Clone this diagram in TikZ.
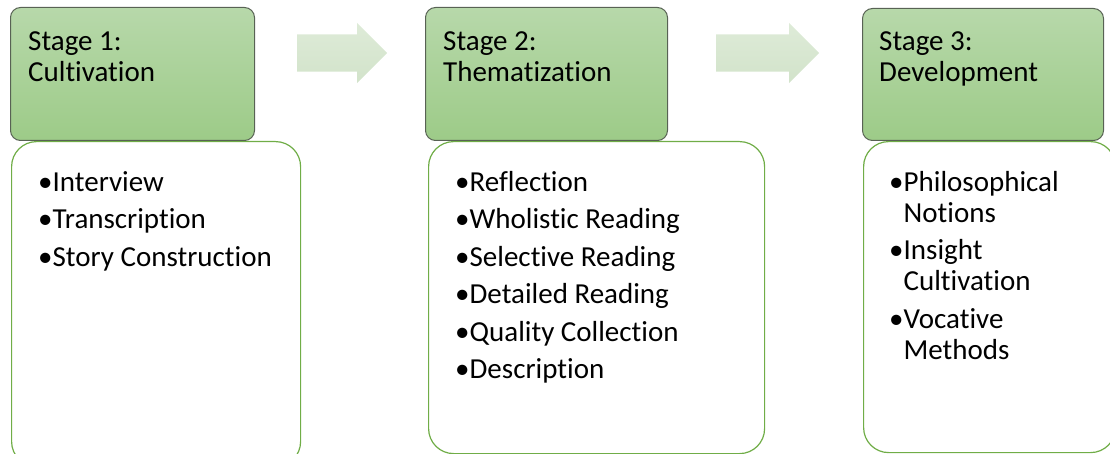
\documentclass[tikz,border=0pt]{standalone}
\usepackage{fontspec}
\setmainfont{Carlito}[Ligatures=NoCommon]
\usetikzlibrary{positioning,shapes.arrows}
\definecolor{hdrtop}{RGB}{183,216,170}
\definecolor{hdrbot}{RGB}{157,203,136}
\definecolor{hdrline}{RGB}{88,98,84}
\definecolor{boxline}{RGB}{112,173,71}
\definecolor{arrtop}{RGB}{222,235,216}
\definecolor{arrbot}{RGB}{210,227,202}

\begin{document}
\begin{tikzpicture}[x=1pt,y=-1pt,
  stagebox/.style={draw=hdrline, line width=1pt, rounded corners=10pt, top color=hdrtop, bottom color=hdrbot, anchor=north west, minimum height=133pt, inner sep=0pt},
  listbox/.style={draw=boxline, line width=1.2pt, rounded corners=25pt, fill=white, anchor=north west, inner sep=0pt},
  flowarrow/.style={single arrow, top color=arrtop, bottom color=arrbot, draw=none, inner sep=18.5pt, single arrow head extend=11.5pt, minimum height=#1, anchor=tail},
  stagetext/.style={align=left, inner sep=0pt, font=\fontsize{29}{31}\selectfont},
  itemtext/.style={align=left, inner sep=0pt, font=\fontsize{29}{31}\selectfont}]
\useasboundingbox (0,0) rectangle (1110,454);

\node[listbox, minimum width=289pt, minimum height=325pt] (b1) at (11,141) {};
\node[listbox, minimum width=336pt, minimum height=312pt] (b2) at (428,141) {};
\node[listbox, minimum width=252pt, minimum height=311pt] (b3) at (863,141) {};

\node[stagebox, minimum width=244pt] (h1) at (10,7) {};
\node[stagebox, minimum width=242pt] (h2) at (425,7) {};
\node[stagebox, minimum width=241pt, minimum height=132pt] (h3) at (862,8) {};

\node[flowarrow=90pt] (a1) at (297,53) {};
\node[flowarrow=103pt] (a2) at (716,53) {};

\node[stagetext, below right=24pt and 18pt of h1.north west] (s1) {Stage 1:\\Cultivation};
\node[stagetext, below right=24pt and 18pt of h2.north west] (s2) {Stage 2:\\Thematization};
\node[stagetext, below right=23pt and 17pt of h3.north west] (s3) {Stage 3:\\Development};

\node[itemtext, below right=30pt and 27pt of b1.north west] (l1) {•Interview\\[6.5pt]•Transcription\\[6.5pt]•Story Construction};
\node[itemtext, below right=30pt and 27pt of b2.north west] (l2) {•Reflection\\[6.5pt]•Wholistic Reading\\[6.5pt]•Selective Reading\\[6.5pt]•Detailed Reading\\[6.5pt]•Quality Collection\\[6.5pt]•Description};
\node[itemtext, below right=30pt and 26pt of b3.north west] (l3) {•Philosophical\\\hphantom{•}Notions\\[6.5pt]•Insight\\\hphantom{•}Cultivation\\[6.5pt]•Vocative\\\hphantom{•}Methods};
\end{tikzpicture}
\end{document}
